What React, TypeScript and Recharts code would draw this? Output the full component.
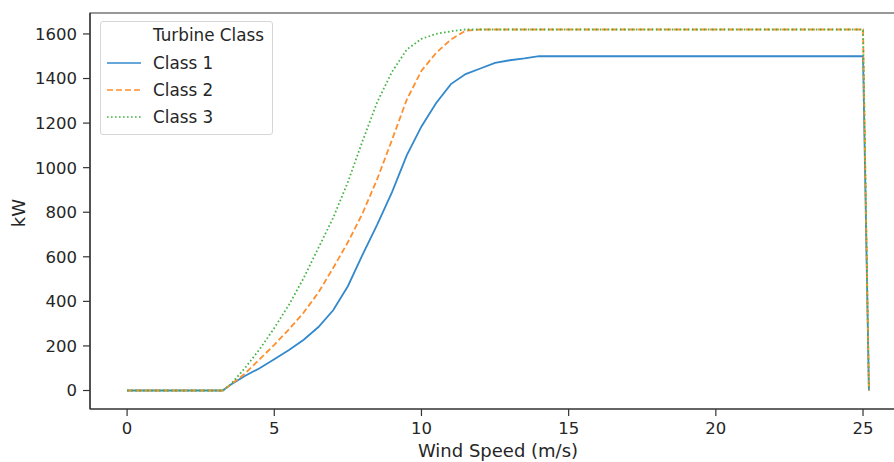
import React from 'react';
import { LineChart, Line, XAxis, YAxis, Legend, ReferenceArea } from 'recharts';

const windSpeed = [0, 0.5, 1, 1.5, 2, 2.5, 3, 3.25, 3.5, 4, 4.5, 5, 5.5, 6, 6.5, 7, 7.5, 8, 8.5, 9, 9.5, 10, 10.5, 11, 11.5, 12, 12.5, 13, 13.5, 14, 15, 20, 25, 25.2];
const class1 = [0, 0, 0, 0, 0, 0, 0, 0, 25, 65, 100, 140, 182, 228, 285, 360, 468, 610, 745, 890, 1055, 1185, 1290, 1375, 1420, 1445, 1470, 1482, 1490, 1500, 1500, 1500, 1500, 0];
const class2 = [0, 0, 0, 0, 0, 0, 0, 0, 25, 75, 140, 205, 275, 350, 440, 550, 665, 795, 950, 1125, 1305, 1435, 1515, 1575, 1615, 1620, 1620, 1620, 1620, 1620, 1620, 1620, 1620, 0];
const class3 = [0, 0, 0, 0, 0, 0, 0, 0, 25, 100, 185, 280, 385, 505, 640, 775, 935, 1120, 1295, 1430, 1530, 1578, 1600, 1612, 1620, 1620, 1620, 1620, 1620, 1620, 1620, 1620, 1620, 0];

const xTicks = [0, 5, 10, 15, 20, 25];
const yTicks = [0, 200, 400, 600, 800, 1000, 1200, 1400, 1600];
const legendTitle = 'Turbine Class';
const seriesNames = ['Class 1', 'Class 2', 'Class 3'];

const data = windSpeed.map((w, i) => ({ w, c1: class1[i], c2: class2[i], c3: class3[i] }));

const FONT = '"DejaVu Sans", sans-serif';
const TEXT = '#262626';
const AX = '#333333';
const COLORS = ['#3389cc', '#ff8f2e', '#47b347'];
const DASH = [undefined, '6 3', '1.6 2.4'];
const FS_TICK = 16.5;
const FS_LEG = 16.8;
const FS_LAB = 18;

const XMIN = -1.26;
const XMAX = 26.46;
const YMIN = -83;
const YMAX = 1694;

const LegendBox = () => (
  <div
    style={{
      width: 173,
      height: 114,
      border: '1px solid #d6d6d6',
      borderRadius: 3,
      background: 'rgba(255,255,255,0.8)',
      boxSizing: 'border-box',
      fontFamily: FONT,
      fontSize: FS_LEG,
      color: TEXT,
      position: 'relative',
    }}
  >
    <div style={{ position: 'absolute', left: 52, top: 13 - 10, lineHeight: '20px', whiteSpace: 'nowrap' }}>{legendTitle}</div>
    {seriesNames.map((n, i) => (
      <div key={n} style={{ position: 'absolute', left: 0, top: 41 + i * 27 - 10, height: 20, width: 170 }}>
        <svg width={50} height={20} style={{ position: 'absolute', left: 0, top: 0 }}>
          <line x1={6} x2={40} y1={10} y2={10} stroke={COLORS[i]} strokeWidth={1.7} strokeDasharray={DASH[i]} />
        </svg>
        <div style={{ position: 'absolute', left: 52, top: 0, lineHeight: '20px', whiteSpace: 'nowrap' }}>{n}</div>
      </div>
    ))}
  </div>
);

export default function App() {
  return (
    <div style={{ position: 'absolute', left: 0, top: 0, width: 894, height: 462, overflow: 'hidden', background: '#fff' }}>
      <LineChart
        width={916}
        height={462}
        data={data}
        margin={{ top: 13, right: 10, bottom: 23, left: 30 }}
        style={{ fontFamily: FONT }}
      >
        <XAxis
          dataKey="w"
          type="number"
          domain={[XMIN, XMAX]}
          ticks={xTicks}
          allowDataOverflow
          height={30}
          tickSize={7}
          tickMargin={6}
          tick={{ fill: TEXT, fontSize: FS_TICK, fontFamily: FONT }}
          axisLine={{ stroke: AX, strokeWidth: 1.2 }}
          tickLine={{ stroke: AX, strokeWidth: 1.2 }}
          label={{
            content: (p: any) => {
              const vb = p.viewBox || { x: 90, y: 409, width: 816, height: 30 };
              return (
                <text x={vb.x + vb.width / 2} y={vb.y + 48} textAnchor="middle" fontSize={FS_LAB} fontFamily={FONT} fill={TEXT}>
                  Wind Speed (m/s)
                </text>
              );
            },
          }}
        />
        <YAxis
          type="number"
          domain={[YMIN, YMAX]}
          ticks={yTicks}
          allowDataOverflow
          width={60}
          tickSize={7}
          tickMargin={6}
          tick={{ fill: TEXT, fontSize: FS_TICK, fontFamily: FONT }}
          axisLine={{ stroke: AX, strokeWidth: 1.2 }}
          tickLine={{ stroke: AX, strokeWidth: 1.2 }}
          label={{
            content: (p: any) => {
              const vb = p.viewBox || { x: 30, y: 13, width: 60, height: 396 };
              const cx = vb.x - 12;
              const cy = vb.y + vb.height / 2 + 2;
              return (
                <text x={cx} y={cy} transform={`rotate(-90, ${cx}, ${cy})`} textAnchor="middle" dominantBaseline="central" fontSize={FS_LAB} fontFamily={FONT} fill={TEXT}>
                  kW
                </text>
              );
            },
          }}
        />
        <ReferenceArea x1={XMIN} x2={XMAX} y1={YMIN} y2={YMAX} fill="none" stroke={AX} strokeWidth={1.2} ifOverflow="visible" />
        <Legend
          layout="vertical"
          align="center"
          verticalAlign="middle"
          content={() => <LegendBox />}
          wrapperStyle={{ position: 'absolute', left: 100, top: 21, width: 173, height: 114 }}
        />
        <Line type="linear" dataKey="c1" name="Class 1" stroke={COLORS[0]} strokeWidth={1.8} dot={false} isAnimationActive={false} />
        <Line type="linear" dataKey="c2" name="Class 2" stroke={COLORS[1]} strokeWidth={1.8} strokeDasharray={DASH[1]} dot={false} isAnimationActive={false} />
        <Line type="linear" dataKey="c3" name="Class 3" stroke={COLORS[2]} strokeWidth={1.8} strokeDasharray={DASH[2]} dot={false} isAnimationActive={false} />
      </LineChart>
    </div>
  );
}
